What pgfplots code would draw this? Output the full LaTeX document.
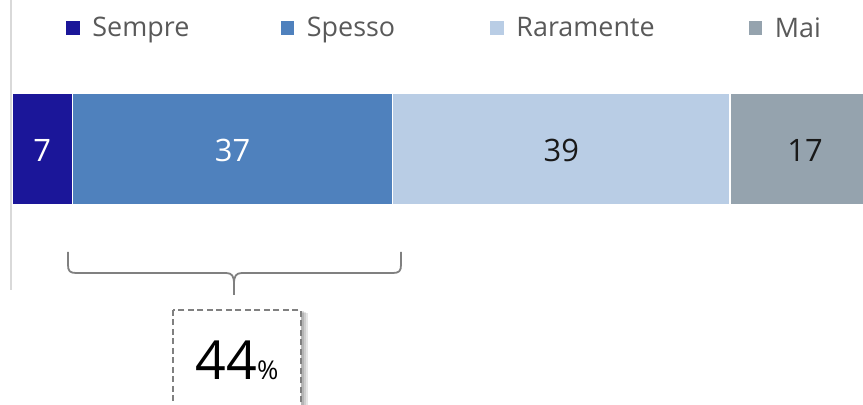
\documentclass[border=0pt]{standalone}
\usepackage{fontspec}
\setmainfont{Open Sans}
\usepackage{pgfplots}
\pgfplotsset{compat=1.18}
\definecolor{csempre}{RGB}{27,22,153}
\definecolor{cspesso}{RGB}{79,129,189}
\definecolor{crara}{RGB}{185,205,229}
\definecolor{cmai}{RGB}{149,163,174}
\definecolor{legtext}{RGB}{89,89,89}
\definecolor{axgray}{RGB}{217,217,217}
\definecolor{brgray}{RGB}{128,128,128}
\begin{document}
\begin{tikzpicture}
\begin{axis}[
  xbar stacked,
  scale only axis,
  width=863bp, height=405bp,
  xmin=-1.387, xmax=98.38,
  ymin=-405, ymax=0,
  axis lines=none,
  bar width=112bp,
  clip=true,
  legend columns=4,
  legend style={at={(rel axis cs:0.0753,0.931)}, anchor=west, draw=none, fill=none,
    inner sep=0pt, outer sep=0pt,
    font=\fontsize{27}{27}\selectfont, text=legtext,
    /tikz/every odd column/.append style={column sep=0pt},
    /tikz/every even column/.append style={column sep=0pt}},
  legend image code/.code={\fill[#1] (0bp,-7.5bp) rectangle (15bp,7.5bp); \path (24bp,0);},
]
\addplot[fill=csempre, draw=white, line width=1.5bp] coordinates {(7,-149)};
\addlegendentry{\makebox[185bp][l]{Sempre}}
\addplot[fill=cspesso, draw=white, line width=1.5bp] coordinates {(37,-149)};
\addlegendentry{\makebox[180bp][l]{Spesso}}
\addplot[fill=crara, draw=white, line width=1.5bp] coordinates {(39,-149)};
\addlegendentry{\makebox[229bp][l]{Raramente}}
\addplot[fill=cmai, draw=white, line width=1.5bp] coordinates {(17,-149)};
\addlegendentry{Mai}
\coordinate (TL) at (rel axis cs:0,1);
\coordinate (BR) at (rel axis cs:1,0);
\end{axis}
\begin{scope}[shift={(TL)}, x=1bp, y=-1bp]
  \node[text=white, font=\fontsize{31}{31}\selectfont] at (42.3,150) {7};
  \node[text=white, font=\fontsize{31}{31}\selectfont] at (232.6,150) {37};
  \node[text=black!90, font=\fontsize{31}{31}\selectfont] at (561.3,150) {39};
  \node[text=black!90, font=\fontsize{31}{31}\selectfont] at (805,150) {17};
  \draw[axgray, line width=1.5bp] (11,0) -- (11,290);
  \draw[brgray, line width=1.8bp, line join=round]
    (68,252) -- (68,265) .. controls (68,271) and (70,273) .. (76,273)
    -- (226,273) .. controls (232,273) and (234,276) .. (234,284) -- (234,295);
  \draw[brgray, line width=1.8bp, line join=round]
    (234,284) .. controls (234,276) and (236,273) .. (242,273)
    -- (393,273) .. controls (399,273) and (401,271) .. (401,265) -- (401,252);
  \fill[black, opacity=0.10] (176,313) rectangle (308,430);
  \fill[black, opacity=0.10] (176,312) rectangle (306,430);
  \fill[black, opacity=0.12] (176,311) rectangle (304,430);
  \draw[brgray, line width=1.5bp, dash pattern=on 6bp off 3.5bp, fill=white]
    (173,310) rectangle (301,430);
  \node[anchor=base, inner sep=0pt] at (237,380)
    {\fontsize{54}{54}\selectfont 44{\fontsize{26}{26}\selectfont\%}};
\end{scope}
\pgfresetboundingbox
\useasboundingbox (TL) rectangle (BR);
\end{tikzpicture}
\end{document}
